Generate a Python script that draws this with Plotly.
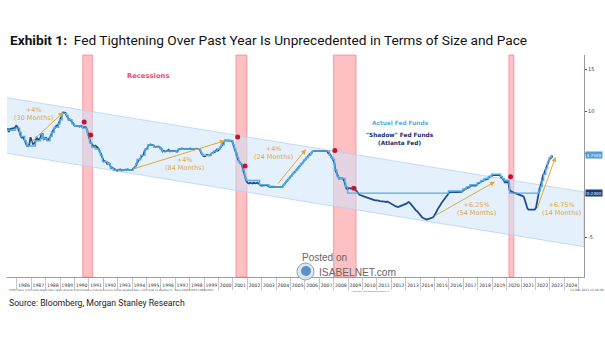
import numpy as np
import pandas as pd
import plotly.graph_objects as go

# ---------------------------------------------------------------- data
# "Shadow" fed funds (Atlanta Fed), monthly, May 1985 .. Mar 2023
shadow_start = "1985-05-01"
shadow_values = [
    7.97, 7.53, 7.88, 7.90, 7.92, 7.99, 8.05, 8.27,                      # 1985 May-Dec
    8.14, 7.86, 7.48, 6.99, 6.85, 6.92, 6.56, 6.17, 5.89, 5.85, 6.04, 6.91,  # 1986
    6.43, 6.10, 6.13, 6.37, 6.85, 6.73, 6.58, 6.73, 7.22, 7.29, 6.69, 6.77,  # 1987
    6.83, 6.58, 6.58, 6.87, 7.09, 7.51, 7.75, 8.01, 8.19, 8.30, 8.35, 8.76,  # 1988
    9.12, 9.36, 9.85, 9.84, 9.81, 9.53, 9.24, 8.99, 9.02, 8.84, 8.55, 8.45,  # 1989
    8.23, 8.24, 8.28, 8.26, 8.18, 8.29, 8.15, 8.13, 8.20, 8.11, 7.81, 7.31,  # 1990
    6.91, 6.25, 6.12, 5.91, 5.78, 5.90, 5.82, 5.66, 5.45, 5.21, 4.81, 4.43,  # 1991
    4.03, 4.06, 3.98, 3.73, 3.82, 3.76, 3.25, 3.30, 3.22, 3.10, 3.09, 2.92,  # 1992
    3.02, 3.03, 3.07, 2.96, 3.00, 3.04, 3.06, 3.03, 3.09, 2.99, 3.02, 2.96,  # 1993
    3.05, 3.25, 3.34, 3.56, 4.01, 4.25, 4.26, 4.47, 4.73, 4.76, 5.29, 5.45,  # 1994
    5.53, 5.92, 5.98, 6.05, 6.01, 6.00, 5.85, 5.74, 5.80, 5.76, 5.80, 5.60,  # 1995
    5.56, 5.22, 5.31, 5.22, 5.24, 5.27, 5.40, 5.22, 5.30, 5.24, 5.31, 5.29,  # 1996
    5.25, 5.19, 5.39, 5.51, 5.50, 5.56, 5.52, 5.54, 5.54, 5.50, 5.52, 5.50,  # 1997
    5.56, 5.51, 5.49, 5.45, 5.49, 5.56, 5.54, 5.55, 5.51, 5.07, 4.83, 4.68,  # 1998
    4.63, 4.76, 4.81, 4.74, 4.74, 4.76, 4.99, 5.07, 5.22, 5.20, 5.42, 5.30,  # 1999
    5.45, 5.73, 5.85, 6.02, 6.27, 6.53, 6.54, 6.50, 6.52, 6.51, 6.51, 6.40,  # 2000
    5.98, 5.49, 5.31, 4.80, 4.21, 3.97, 3.77, 3.65, 3.07, 2.49, 2.09, 1.62,  # 2001
    1.45, 1.40, 1.50, 1.45, 1.40, 1.50, 1.42, 1.45, 1.50, 1.40, 1.25, 1.15,  # 2002
    1.15, 1.20, 1.18, 1.22, 1.20, 1.12, 1.00, 1.03, 1.01, 1.01, 1.00, 0.98,  # 2003
    1.00, 1.01, 1.00, 1.00, 1.00, 1.03, 1.26, 1.43, 1.61, 1.76, 1.93, 2.16,  # 2004
    2.28, 2.50, 2.63, 2.79, 3.00, 3.04, 3.26, 3.50, 3.62, 3.78, 4.00, 4.16,  # 2005
    4.29, 4.49, 4.59, 4.79, 4.94, 4.99, 5.24, 5.25, 5.25, 5.25, 5.25, 5.24,  # 2006
    5.25, 5.26, 5.26, 5.25, 5.25, 5.25, 5.26, 5.02, 4.94, 4.76, 4.49, 4.24,  # 2007
    3.94, 2.98, 2.61, 2.28, 1.98, 2.00, 2.01, 2.00, 1.81, 1.10, 0.80, 0.70,  # 2008
    0.85, 0.85, 0.80, 0.85, 0.80, 0.80, 0.60, 0.40, 0.20, 0.05, 0.00, -0.10,  # 2009
    -0.10, -0.15, -0.20, -0.25, -0.30, -0.35, -0.45, -0.50, -0.55, -0.55, -0.60, -0.60,  # 2010
    -0.60, -0.65, -0.70, -0.70, -0.75, -0.70, -0.75, -0.80, -0.75, -0.80, -0.90, -1.00,  # 2011
    -1.10, -1.20, -1.25, -1.30, -1.35, -1.40, -1.35, -1.30, -1.25, -1.20, -1.15, -1.10,  # 2012
    -1.00, -0.90, -0.80, -0.90, -1.10, -1.30, -1.50, -1.70, -1.80, -1.90, -2.10, -2.30,  # 2013
    -2.50, -2.60, -2.70, -2.80, -2.85, -2.90, -2.85, -2.80, -2.75, -2.70, -2.65, -2.50,  # 2014
    -2.30, -2.00, -1.70, -1.40, -1.20, -1.00, -0.80, -0.60, -0.40, -0.20, 0.00, 0.20,  # 2015
    0.35, 0.38, 0.36, 0.37, 0.37, 0.38, 0.39, 0.40, 0.40, 0.40, 0.41, 0.54,  # 2016
    0.65, 0.66, 0.79, 0.90, 0.91, 1.04, 1.15, 1.16, 1.15, 1.15, 1.16, 1.30,  # 2017
    1.41, 1.42, 1.51, 1.69, 1.70, 1.82, 1.91, 1.91, 1.95, 2.19, 2.20, 2.27,  # 2018
    2.40, 2.40, 2.41, 2.42, 2.39, 2.38, 2.40, 2.13, 2.04, 1.83, 1.55, 1.55,  # 2019
    1.55, 1.58, 0.65, 0.45, 0.40, 0.35, 0.30, 0.25, 0.20, 0.15, 0.10, 0.05,  # 2020
    0.00, -0.10, -0.20, -0.70, -1.30, -1.60, -1.70, -1.70, -1.70, -1.70, -1.70, -1.70,  # 2021
    -1.50, -0.60, 0.20, 0.80, 1.20, 1.90, 2.40, 2.70, 3.10, 3.50, 3.90, 4.20,  # 2022
    4.40, 4.60, 4.65,                                                        # 2023 Jan-Mar
]

# Actual fed funds target (upper bound): step changes, decimal-year dates
target_dates = [
    1985.32, 1985.90, 1986.20, 1986.30, 1986.55, 1986.65, 1986.70, 1987.30, 1987.65,
    1987.75, 1987.85, 1988.10, 1988.30, 1988.45, 1988.60, 1988.90, 1989.00, 1989.15,
    1989.45, 1989.55, 1989.83, 1990.00, 1990.55, 1990.85, 1990.90, 1991.00, 1991.05,
    1991.20, 1991.45, 1991.70, 1991.80, 1991.95, 1992.30, 1992.50, 1992.70, 1994.10,
    1994.25, 1994.35, 1994.60, 1994.90, 1995.10, 1995.50, 1995.95, 1996.10, 1997.20,
    1998.75, 1998.80, 1998.90, 1999.50, 1999.65, 1999.90, 2000.10, 2000.20, 2000.40,
    2001.00, 2001.10, 2001.20, 2001.30, 2001.40, 2001.50, 2001.65, 2001.70, 2001.80,
    2001.85, 2001.95, 2002.85, 2003.50, 2004.50, 2004.60, 2004.70, 2004.85, 2004.95,
    2005.10, 2005.20, 2005.35, 2005.50, 2005.60, 2005.70, 2005.85, 2005.95, 2006.10,
    2006.25, 2006.40, 2006.50, 2007.70, 2007.80, 2007.95, 2008.05, 2008.08, 2008.22,
    2008.33, 2008.78, 2008.83, 2008.96, 2015.96, 2016.96, 2017.20, 2017.45, 2017.96,
    2018.22, 2018.45, 2018.74, 2018.97, 2019.58, 2019.70, 2019.83, 2020.17, 2020.20,
    2022.21, 2022.34, 2022.46, 2022.57, 2022.72, 2022.84, 2022.96, 2023.09, 2023.20,
]
target_levels = [
    7.75, 8.00, 7.50, 7.00, 6.50, 6.25, 5.875, 6.50, 6.75,
    7.25, 6.75, 6.50, 7.00, 7.50, 8.10, 8.50, 9.00, 9.75,
    9.50, 9.00, 8.50, 8.25, 8.00, 7.75, 7.25, 7.00, 6.25,
    5.75, 5.50, 5.25, 4.75, 4.00, 3.75, 3.25, 3.00, 3.25,
    3.75, 4.25, 4.75, 5.50, 6.00, 5.75, 5.50, 5.25, 5.50,
    5.25, 5.00, 4.75, 5.00, 5.25, 5.50, 5.75, 6.00, 6.50,
    6.00, 5.50, 5.00, 4.50, 4.00, 3.75, 3.50, 3.00, 2.50,
    2.00, 1.75, 1.25, 1.00, 1.25, 1.50, 1.75, 2.00, 2.25,
    2.50, 2.75, 3.00, 3.25, 3.50, 3.75, 4.00, 4.25, 4.50,
    4.75, 5.00, 5.25, 4.75, 4.50, 4.25, 3.50, 3.00, 2.25,
    2.00, 1.50, 1.00, 0.25, 0.50, 0.75, 1.00, 1.25, 1.50,
    1.75, 2.00, 2.25, 2.50, 2.25, 2.00, 1.75, 1.25, 0.25,
    0.50, 1.00, 1.75, 2.50, 3.25, 4.00, 4.50, 4.75, 4.75,
]

# NBER recessions (decimal years)
recession_start = [1990.58, 2001.21, 2007.99, 2020.16]
recession_end = [1991.25, 2001.97, 2009.55, 2020.50]

# rate at the turning points marked in red
dot_dates = [1990.68, 1991.13, 2001.33, 2001.84, 2008.08, 2009.40, 2020.27]
dot_values = [8.73, 7.18, 6.95, 3.49, 5.32, 0.83, 2.21]

# downward-sloping trend channel (start / end of each edge)
channel_x = [1985.32, 2025.37]
channel_top = [11.62, 0.39]
channel_bottom = [5.00, -6.12]

# tightening cycles: arrow from (x0, y0) to (x1, y1) and its label
hike_x0 = [1986.80, 1994.08, 2004.06, 2014.91, 2022.08]
hike_y0 = [5.99, 3.13, 1.23, -2.55, -1.75]
hike_x1 = [1989.23, 2000.45, 2006.07, 2019.19, 2023.40]
hike_y1 = [9.88, 6.50, 5.48, 1.62, 4.60]
hike_text = ["+4%<br>(30 Months)", "+4%<br>(84 Months)", "+4%<br>(24 Months)",
             "+6.25%<br>(54 Months)", "+6.75%<br>(14 Months)"]
hike_label_x = [1987.13, 1997.67, 2003.85, 2017.92, 2023.81]
hike_label_y = [9.68, 3.75, 5.05, -1.63, -1.63]

# axis settings
x_range = [1985.32, 2025.37]
year_labels = list(range(1986, 2025))
y_range = [-9.73, 16.70]
y_ticks = [-5, 0, 5, 10, 15]
y_ticktext = ["-5", "", "", "10", "15"]   # 0 and 5 sit under the last-value boxes


def to_date(d):
    """Decimal year -> timestamp."""
    y = int(np.floor(d))
    a = pd.Timestamp(year=y, month=1, day=1)
    b = pd.Timestamp(year=y + 1, month=1, day=1)
    return a + (b - a) * (d - y)


shadow_dates = pd.date_range(shadow_start, periods=len(shadow_values), freq="MS") + pd.Timedelta(days=14)

# ---------------------------------------------------------------- colours
NAVY = "#1f4e8e"
LIGHT = "#5aaae4"
GOLD = "#e2a83c"
PINK = "#e8506e"
DOT = "#c3142d"

fig = go.Figure()

# trend channel
cx = [to_date(v) for v in channel_x]
fig.add_trace(go.Scatter(
    x=cx + cx[::-1], y=channel_top + channel_bottom[::-1],
    fill="toself", fillcolor="rgba(205,228,250,0.55)",
    line=dict(color="rgba(175,208,240,0.9)", width=0.8),
    mode="lines", hoverinfo="skip", showlegend=False))

# shadow rate (navy) and actual target (light blue)
fig.add_trace(go.Scatter(
    x=shadow_dates, y=shadow_values, mode="lines",
    line=dict(color=NAVY, width=1.8), showlegend=False))
fig.add_trace(go.Scatter(
    x=[to_date(v) for v in target_dates], y=target_levels, mode="lines",
    line=dict(color=LIGHT, width=1.4, shape="hv"), showlegend=False))

# recession turning-point markers
fig.add_trace(go.Scatter(
    x=[to_date(v) for v in dot_dates], y=dot_values, mode="markers",
    marker=dict(color=DOT, size=5), showlegend=False))

# recession bars
for s, e in zip(recession_start, recession_end):
    fig.add_shape(type="rect", xref="x", yref="paper",
                  x0=to_date(s), x1=to_date(e), y0=0, y1=1,
                  fillcolor="rgba(255,140,145,0.55)",
                  line=dict(color="rgba(245,110,120,0.6)", width=1),
                  layer="below")

# tightening arrows and labels
for x0, y0, x1, y1 in zip(hike_x0, hike_y0, hike_x1, hike_y1):
    fig.add_annotation(x=to_date(x1), y=y1, ax=to_date(x0), ay=y0,
                       xref="x", yref="y", axref="x", ayref="y",
                       showarrow=True, arrowhead=2, arrowsize=1,
                       arrowwidth=1, arrowcolor=GOLD, text="")
for t, lx, ly in zip(hike_text, hike_label_x, hike_label_y):
    fig.add_annotation(x=to_date(lx), y=ly, xref="x", yref="y", text=t,
                       showarrow=False, align="center",
                       font=dict(family="DejaVu Sans", size=6.5, color=GOLD))

# in-chart labels
fig.add_annotation(x=to_date(1995.1), y=14.18, xref="x", yref="y",
                   text="<b>Recessions</b>", showarrow=False,
                   font=dict(family="DejaVu Sans", size=6.8, color=PINK))
fig.add_annotation(x=to_date(2012.6), y=8.57, xref="x", yref="y",
                   text="<b>Actual Fed Funds</b>", showarrow=False,
                   font=dict(family="DejaVu Sans", size=5.8, color=LIGHT))
fig.add_annotation(x=to_date(2012.6), y=6.7, xref="x", yref="y",
                   text="<b>\"Shadow\" Fed Funds<br>(Atlanta Fed)</b>", showarrow=False,
                   font=dict(family="DejaVu Sans", size=5.8, color="#15306b"))

# last-value boxes on the right axis
fig.add_annotation(x=1.0, y=4.75, xref="paper", yref="y", xanchor="left", xshift=1,
                   text="4.7500", showarrow=False, bgcolor="#4a9ee0",
                   font=dict(family="DejaVu Sans", size=4.2, color="white"),
                   borderpad=0.5)
fig.add_annotation(x=1.0, y=0.24, xref="paper", yref="y", xanchor="left", xshift=1,
                   text="0.2400", showarrow=False, bgcolor="#173e7a",
                   font=dict(family="DejaVu Sans", size=4.2, color="white"),
                   borderpad=0.5)

# page text: title, source, terminal notes, watermark
PLOT_L, PLOT_R, PLOT_T, PLOT_B = 7, 584, 55, 277


def px_x(p):
    return (p - PLOT_L) / (PLOT_R - PLOT_L)


def px_y(p):
    return (PLOT_B - p) / (PLOT_B - PLOT_T)


fig.add_annotation(x=px_x(8), y=px_y(40), xref="paper", yref="paper",
                   xanchor="left", yanchor="middle", showarrow=False,
                   text="<b>Exhibit 1:</b>  Fed Tightening Over Past Year Is Unprecedented in Terms of Size and Pace",
                   font=dict(family="Roboto", size=13.7, color="#111"))
fig.add_annotation(x=px_x(7), y=px_y(303), xref="paper", yref="paper",
                   xanchor="left", yanchor="middle", showarrow=False,
                   text="Source: Bloomberg, Morgan Stanley Research",
                   font=dict(family="Roboto", size=8.7, color="#222"))
fig.add_annotation(x=px_x(7), y=px_y(290), xref="paper", yref="paper",
                   xanchor="left", yanchor="middle", showarrow=False,
                   text="FDTR Index (Fed Funds Target Rate Upper Bound) United States Federal Reserve Funds Shadow Rate  Fed Funds vs Shadow FF  Daily 03APR1985-13MAR2023",
                   font=dict(family="DejaVu Sans", size=2.6, color="#555"))
fig.add_annotation(x=px_x(350), y=px_y(291), xref="paper", yref="paper",
                   xanchor="left", yanchor="middle", showarrow=False,
                   text="Copyright© 2023 Bloomberg Finance L.P.",
                   font=dict(family="DejaVu Sans", size=1.8, color="#555"))
fig.add_annotation(x=px_x(568), y=px_y(290), xref="paper", yref="paper",
                   xanchor="left", yanchor="middle", showarrow=False,
                   text="13-Mar-2023 12:49:09",
                   font=dict(family="DejaVu Sans", size=3, color="#555"))
fig.add_annotation(x=px_x(300), y=px_y(257), xref="paper", yref="paper",
                   xanchor="left", yanchor="middle", showarrow=False,
                   text="Posted on",
                   font=dict(family="Liberation Sans", size=10, color="#666"))
fig.add_annotation(x=px_x(317), y=px_y(272), xref="paper", yref="paper",
                   xanchor="left", yanchor="middle", showarrow=False,
                   text="ISABELNET.com",
                   font=dict(family="Liberation Sans", size=10.2, color="#666"))
fig.add_shape(type="circle", xref="paper", yref="paper",
              x0=px_x(297), x1=px_x(314), y0=px_y(280), y1=px_y(263),
              fillcolor="rgba(220,228,236,0.9)", line=dict(color="#8aa0b8", width=1))
fig.add_shape(type="circle", xref="paper", yref="paper",
              x0=px_x(301), x1=px_x(311), y0=px_y(276), y1=px_y(266),
              fillcolor="#5b8fc7", line=dict(width=0))

fig.update_layout(
    width=605, height=341,
    margin=dict(l=PLOT_L, r=605 - PLOT_R, t=PLOT_T, b=341 - PLOT_B),
    paper_bgcolor="white", plot_bgcolor="white",
    showlegend=False,
    xaxis=dict(
        type="date", range=[to_date(x_range[0]), to_date(x_range[1])],
        tickvals=[f"{y}-07-02" for y in year_labels],
        ticktext=[str(y) for y in year_labels],
        ticks="", showgrid=False, zeroline=False,
        showline=True, linecolor="#9a9a9a", linewidth=1,
        tickfont=dict(family="DejaVu Sans", size=4.6, color="#333"),
        ticklabelstandoff=3,
        minor=dict(ticks="outside", ticklen=12, dtick="M12", tick0="1986-01-01",
                   tickcolor="#c8c8c8", tickwidth=1, showgrid=False),
    ),
    yaxis=dict(
        side="right", range=y_range, tickvals=y_ticks, ticktext=y_ticktext,
        ticks="outside", ticklen=2, tickcolor="#555",
        showgrid=False, zeroline=False,
        showline=True, linecolor="#9a9a9a", linewidth=1,
        tickfont=dict(family="DejaVu Sans", size=5, color="#333"),
    ),
)

fig.write_html("out.html")
